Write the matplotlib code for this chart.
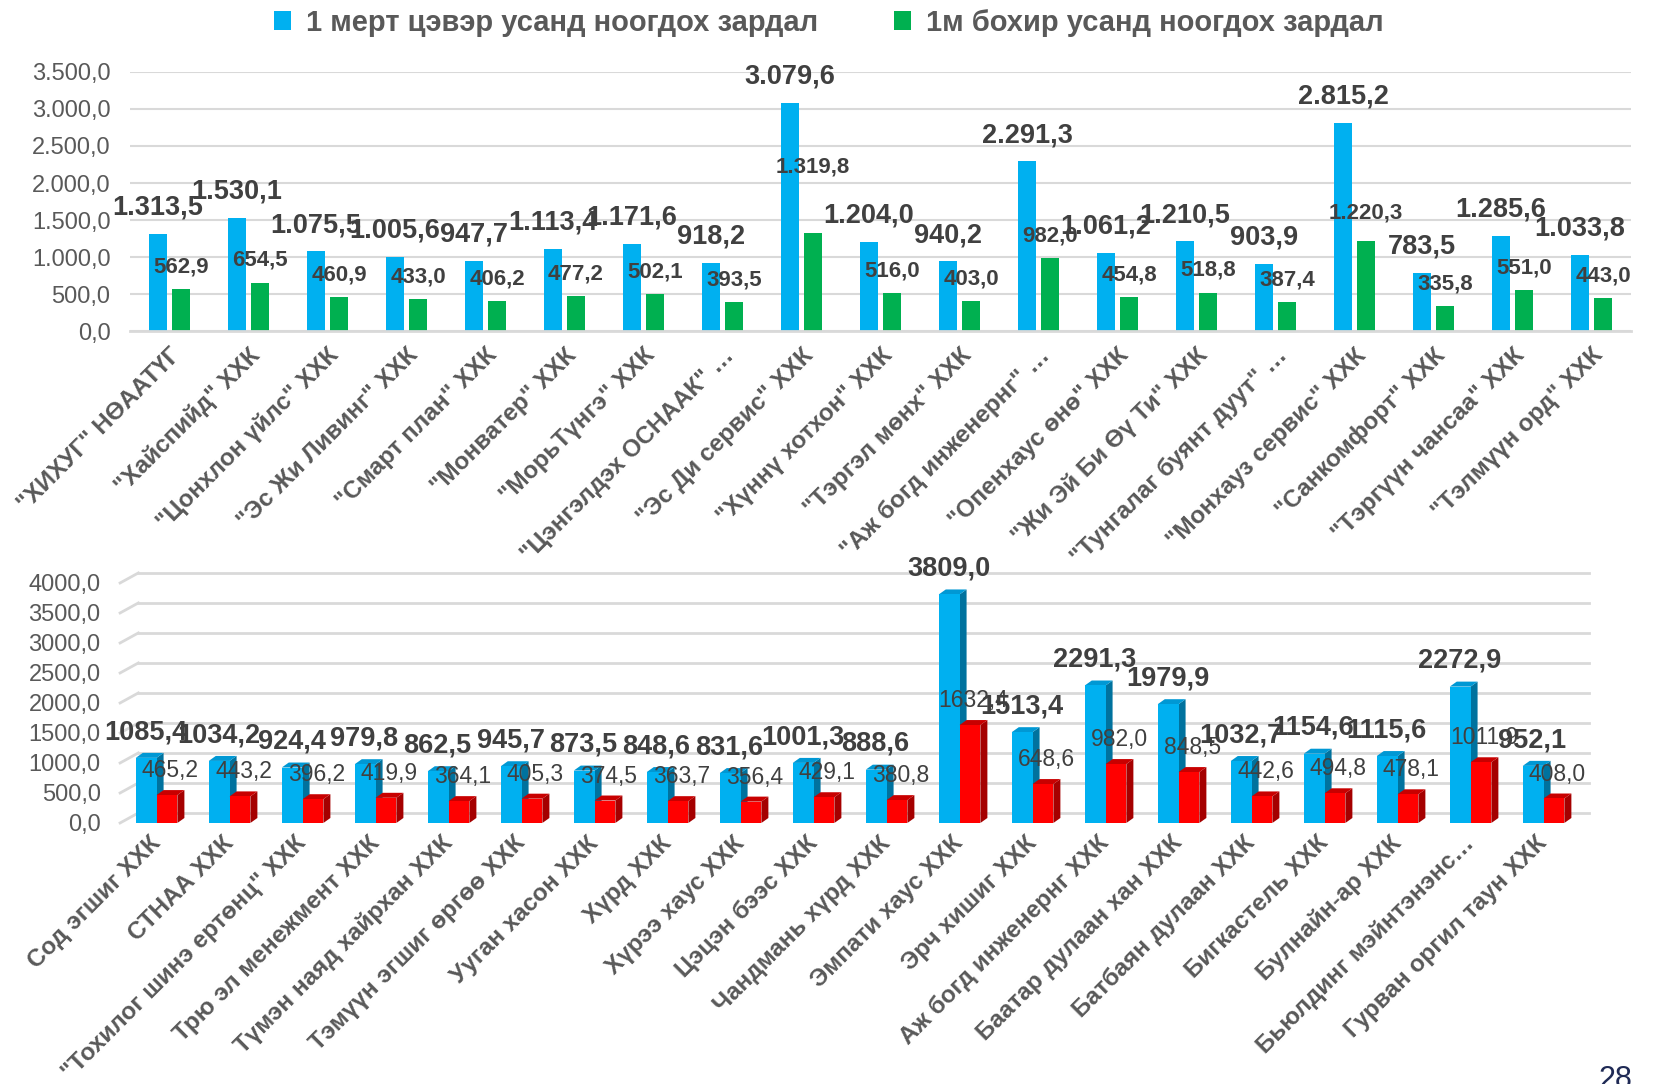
import numpy as np
import matplotlib.pyplot as plt
from matplotlib.patches import Patch, Polygon

plt.rcParams['font.family'] = ['Liberation Sans', 'DejaVu Sans']

# ---- data: top chart ----
top_names = ['"ХИХУГ" НӨААТҮГ', '"Хайспийд" ХХК', '"Цонхлон үйлс" ХХК', '"Эс Жи Ливинг" ХХК',
             '"Смарт план" ХХК', '"Монватер" ХХК', '"МорьТүнгэ" ХХК', '"Цэнгэлдэх ОСНААК" …',
             '"Эс Ди сервис" ХХК', '"Хүннү хотхон" ХХК', '"Тэргэл мөнх" ХХК', '"Аж богд инженернг" …',
             '"Опенхаус өнө" ХХК', '"Жи Эй Би Өү Ти" ХХК', '"Тунгалаг буянт дуут" …',
             '"Монхауз сервис" ХХК', '"Санкомфорт" ХХК', '"Тэргүүн чансаа" ХХК', '"Тэлмүүн орд" ХХК']
top_clean = [1313.5, 1530.1, 1075.5, 1005.6, 947.7, 1113.4, 1171.6, 918.2, 3079.6, 1204.0,
             940.2, 2291.3, 1061.2, 1210.5, 903.9, 2815.2, 783.5, 1285.6, 1033.8]
top_dirty = [562.9, 654.5, 460.9, 433.0, 406.2, 477.2, 502.1, 393.5, 1319.8, 516.0,
             403.0, 982.0, 454.8, 518.8, 387.4, 1220.3, 335.8, 551.0, 443.0]
top_ticks = [0, 500, 1000, 1500, 2000, 2500, 3000, 3500]

# ---- data: bottom chart ----
bot_names = ['Сод эгшиг ХХК', 'СТНАА ХХК', '"Тохилог шинэ ертөнц" ХХК', 'Трю эл менежмент ХХК',
             'Түмэн наяд хайрхан ХХК', 'Тэмүүн эгшиг өргөө ХХК', 'Ууган хасон ХХК', 'Хүрд ХХК',
             'Хүрээ хаус ХХК', 'Цэцэн бээс ХХК', 'Чандмань хүрд ХХК', 'Эмпати хаус ХХК',
             'Эрч хишиг ХХК', 'Аж богд инженернг ХХК', 'Баатар дулаан хан ХХК', 'Батбаян дулаан ХХК',
             'Бигкастель ХХК', 'Булнайн-ар ХХК', 'Бьюлдинг мэйнтэнэнс…', 'Гурван оргил таун ХХК']
bot_clean = [1085.4, 1034.2, 924.4, 979.8, 862.5, 945.7, 873.5, 848.6, 831.6, 1001.3,
             888.6, 3809.0, 1513.4, 2291.3, 1979.9, 1032.7, 1154.6, 1115.6, 2272.9, 952.1]
bot_dirty = [465.2, 443.2, 396.2, 419.9, 364.1, 405.3, 374.5, 363.7, 356.4, 429.1,
             380.8, 1632.4, 648.6, 982.0, 848.5, 442.6, 494.8, 478.1, 1011.9, 408.0]
bot_ticks = [0, 500, 1000, 1500, 2000, 2500, 3000, 3500, 4000]

legend_labels = ['1 мерт цэвэр усанд ноогдох зардал', '1м бохир усанд ноогдох зардал']

BLUE = '#00B0F0'
GREEN = '#00B050'
RED = '#FF0000'
GRID = '#D9D9D9'
TXT = '#595959'
LBL = '#404040'

# labels that were lifted by hand in the original (points)
green_lift = {8: 32, 15: 4}


def fmt_dot(v):
    s = f'{v:,.1f}'
    return s.replace(',', 'X').replace('.', ',').replace('X', '.')


def fmt_plain(v):
    return f'{v:.1f}'.replace('.', ',')


fig = plt.figure(figsize=(16.54, 10.84), dpi=100)

# ---------------- top chart ----------------
ax1 = fig.add_axes([0.0786, 0.6946, 0.9075, 0.239])
x = np.arange(len(top_names))
w = 0.22
off = 0.146
ax1.bar(x - off, top_clean, w, color=BLUE, zorder=2)
ax1.bar(x + off, top_dirty, w, color=GREEN, zorder=2)
ax1.set_xlim(-0.5, len(top_names) - 0.5)
ax1.set_ylim(0, 3500)
ax1.set_yticks(top_ticks)
ax1.set_yticklabels([fmt_dot(t) for t in top_ticks], fontsize=17, color=TXT)
ax1.yaxis.grid(True, color=GRID, lw=1.5, zorder=0)
ax1.set_axisbelow(True)
for s in ['top', 'right', 'left']:
    ax1.spines[s].set_visible(False)
ax1.spines['bottom'].set_color(GRID)
ax1.spines['bottom'].set_linewidth(2)
ax1.tick_params(axis='both', length=0)
ax1.tick_params(axis='y', pad=14)
ax1.set_xticks(x + 0.1)
ax1.set_xticklabels(top_names, rotation=45, ha='right', va='center', rotation_mode='anchor',
                    fontsize=17.5, fontweight='bold', color=TXT)
ax1.tick_params(axis='x', pad=15)

for xi, v in zip(x, top_clean):
    ax1.annotate(fmt_dot(v), (xi - off, v), xytext=(0, 19), textcoords='offset points',
                 ha='center', va='center', fontsize=19.5, fontweight='bold', color=LBL, zorder=5)
for i, (xi, v) in enumerate(zip(x, top_dirty)):
    ax1.annotate(fmt_dot(v), (xi + off, v), xytext=(0, 16 + green_lift.get(i, 0)),
                 textcoords='offset points', ha='center', va='center', fontsize=16,
                 fontweight='bold', color=LBL, zorder=5)

# ---------------- bottom chart (3D look) ----------------
ax2 = fig.add_axes([0.0726, 0.2408, 0.8827, 0.2214])
xb = np.arange(len(bot_names))
bw = 0.285
boff = 0.1425
dx = 0.096
dy = 83
back_dx = 0.25
back_dy = 167
ax2.set_xlim(-0.5, len(bot_names) - 0.5)
ax2.set_ylim(0, 4000)

for t in bot_ticks:
    ax2.plot([-0.5 + back_dx, len(bot_names) - 0.5 + 0.12], [t + back_dy, t + back_dy],
             color=GRID, lw=2, zorder=0, clip_on=False)
    ax2.plot([-0.5, -0.5 + back_dx], [t, t + back_dy], color=GRID, lw=2, zorder=0, clip_on=False)


def bar3d(ax, xc, v, face, side, top, z):
    x0, x1 = xc - bw / 2, xc + bw / 2
    ax.add_patch(Polygon([(x1, 0), (x1 + dx, dy), (x1 + dx, v + dy), (x1, v)],
                         closed=True, facecolor=side, edgecolor='none', zorder=z))
    ax.add_patch(Polygon([(x0, v), (x1, v), (x1 + dx, v + dy), (x0 + dx, v + dy)],
                         closed=True, facecolor=top, edgecolor='none', zorder=z))
    ax.bar(xc, v, bw, color=face, zorder=z + 0.1)


for xi, v in zip(xb, bot_clean):
    bar3d(ax2, xi - boff, v, BLUE, '#00729E', '#0098D4', 2)
for xi, v in zip(xb, bot_dirty):
    bar3d(ax2, xi + boff, v, RED, '#A50000', '#C80000', 3)

for xi, v in zip(xb, bot_clean):
    ax2.annotate(fmt_plain(v), (xi - boff + dx / 2, v + dy), xytext=(-3, 15),
                 textcoords='offset points', ha='center', va='center', fontsize=19.5,
                 fontweight='bold', color=LBL, zorder=6)
for xi, v in zip(xb, bot_dirty):
    ax2.annotate(fmt_plain(v), (xi + boff + dx / 2, v + dy), xytext=(0, 14),
                 textcoords='offset points', ha='center', va='center', fontsize=16.5,
                 color=LBL, zorder=6)

ax2.set_yticks(bot_ticks)
ax2.set_yticklabels([fmt_plain(t) for t in bot_ticks], fontsize=17, color=TXT)
for s in ['top', 'right', 'left', 'bottom']:
    ax2.spines[s].set_visible(False)
ax2.tick_params(axis='both', length=0)
ax2.tick_params(axis='y', pad=14)
ax2.set_xticks(xb)
ax2.set_xticklabels(bot_names, rotation=45, ha='right', va='center', rotation_mode='anchor',
                    fontsize=17.5, fontweight='bold', color=TXT)
ax2.tick_params(axis='x', pad=12)

# ---------------- legend & page number ----------------
handles = [Patch(facecolor=BLUE), Patch(facecolor=GREEN)]
fig.legend(handles, legend_labels, loc='center', bbox_to_anchor=(0.501, 0.979), ncol=2,
           frameon=False, handlelength=0.6, handleheight=0.6, handletextpad=0.5,
           columnspacing=2.6, prop={'size': 21, 'weight': 'bold'}, labelcolor=TXT)

fig.text(0.9765, 0.0175, '28', fontsize=22, color='#1F2A55', ha='center', va='top')

fig.savefig('out.png', dpi=100)
